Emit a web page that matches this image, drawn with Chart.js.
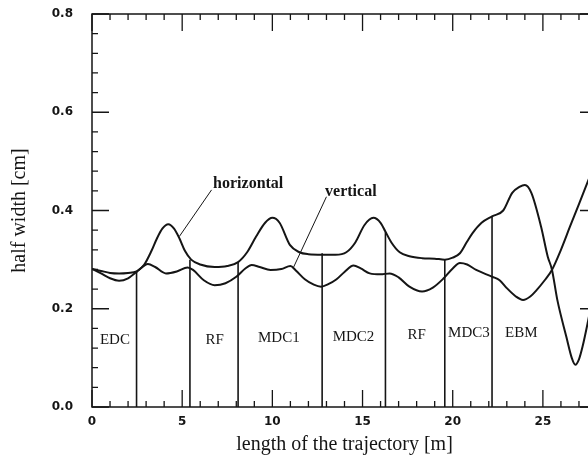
<!DOCTYPE html>
<html>
<head>
  <title>half width along the trajectory</title>
  <script src="https://cdn.jsdelivr.net/npm/chart.js"></script>
  <style>
    html, body { margin: 0; padding: 0; background: #fff; overflow: hidden; }
    #wrap { width: 600px; height: 457px; }
  </style>
</head>
<body>
<div id="wrap"><canvas id="widthChart" width="600" height="457"></canvas></div>

<script>
  // horizontal half width (the curve with the big bumps)
  const horizX = [0, 0.5, 1.0, 1.5, 2.0, 2.5, 2.9, 3.3, 3.6, 3.9, 4.23, 4.55, 4.85, 5.15, 5.5, 6.0, 6.8, 7.5, 8.1,
    8.6, 9.1, 9.6, 10.0, 10.4, 10.97, 11.5, 12.0, 12.76, 13.5, 14.1, 14.6, 15.1, 15.6, 16.0, 16.27, 16.6, 17.06,
    17.6, 18.3, 19.0, 19.56, 20.0, 20.4, 20.8, 21.1, 21.6, 22.18, 22.8, 23.3, 23.7, 24.0, 24.36, 24.9, 25.27,
    25.5, 25.8, 26.3, 26.6, 26.8, 27.0, 27.2, 27.5, 27.8];
  const horizY = [0.281, 0.272, 0.262, 0.257, 0.262, 0.276, 0.290, 0.318, 0.343, 0.363, 0.372, 0.363, 0.343, 0.318,
    0.300, 0.290, 0.285, 0.287, 0.295, 0.315, 0.347, 0.375, 0.385, 0.375, 0.330, 0.315, 0.311, 0.310, 0.310, 0.315,
    0.335, 0.370, 0.385, 0.375, 0.357, 0.335, 0.315, 0.307, 0.303, 0.302, 0.300, 0.304, 0.313, 0.337, 0.354, 0.375,
    0.388, 0.400, 0.436, 0.448, 0.452, 0.436, 0.367, 0.306, 0.280, 0.218, 0.143, 0.100, 0.086, 0.097, 0.123, 0.174,
    0.230];

  // vertical half width
  const vertX = [0, 0.5, 1.0, 1.5, 2.0, 2.47, 2.9, 3.1, 3.5, 4.1, 4.7, 5.3, 5.6, 6.2, 6.8, 7.4, 8.0, 8.5, 8.85, 9.3,
    9.9, 10.5, 11.0, 11.3, 11.8, 12.3, 12.7, 13.1, 13.56, 14.0, 14.5, 14.9, 15.4, 16.0, 16.5, 17.0, 17.6, 18.3,
    18.9, 19.5, 20.0, 20.4, 20.8, 21.3, 22.2, 22.6, 23.0, 23.5, 23.9, 24.3, 24.65, 25.1, 25.5, 26.0, 26.5, 27.0,
    27.5, 28.0];
  const vertY = [0.281, 0.277, 0.273, 0.272, 0.273, 0.276, 0.288, 0.291, 0.285, 0.272, 0.276, 0.284, 0.279, 0.258,
    0.248, 0.252, 0.265, 0.282, 0.289, 0.285, 0.279, 0.281, 0.287, 0.278, 0.260, 0.249, 0.245, 0.250, 0.260, 0.275,
    0.288, 0.282, 0.272, 0.270, 0.272, 0.264, 0.245, 0.235, 0.243, 0.262, 0.282, 0.293, 0.290, 0.279, 0.265, 0.258,
    0.242, 0.225, 0.218, 0.225, 0.238, 0.258, 0.279, 0.320, 0.367, 0.413, 0.460, 0.505];

  // element boundaries (vertical lines from the axis up to the curve)
  const boundX = [2.47, 5.43, 8.1, 12.76, 16.27, 19.56, 22.18];
  const boundTop = [0.276, 0.300, 0.295, 0.313, 0.357, 0.300, 0.388];

  // element names
  const regionNames = ["EDC", "RF", "MDC1", "MDC2", "RF", "MDC3", "EBM"];
  const regionX = [1.27, 6.8, 10.36, 14.5, 18.0, 20.9, 23.8];
  const regionY = [0.136, 0.136, 0.14, 0.143, 0.147, 0.15, 0.151];

  // curve names with their pointer lines
  const curveNames = ["horizontal", "vertical"];
  const curveNameX = [8.66, 14.35];
  const curveNameY = [0.4536, 0.4385];
  const pointerX = [[6.63, 4.84], [13.0, 11.15]];
  const pointerY = [[0.442, 0.347], [0.428, 0.2825]];

  const xTicks = [0, 5, 10, 15, 20, 25];
  const yTicks = [0.0, 0.2, 0.4, 0.6, 0.8];

  const ink = "#151515";
  const toPts = (xs, ys) => xs.map((x, i) => ({ x: x, y: ys[i] }));

  const datasets = [
    { data: toPts(horizX, horizY), borderColor: ink, borderWidth: 2, pointRadius: 0, cubicInterpolationMode: "monotone" },
    { data: toPts(vertX, vertY), borderColor: ink, borderWidth: 2, pointRadius: 0, cubicInterpolationMode: "monotone" }
  ];
  boundX.forEach((bx, i) => {
    datasets.push({ data: [{ x: bx, y: 0 }, { x: bx, y: boundTop[i] }], borderColor: ink, borderWidth: 1.6, pointRadius: 0 });
  });
  pointerX.forEach((px, i) => {
    datasets.push({ data: toPts(px, pointerY[i]), borderColor: ink, borderWidth: 1, pointRadius: 0 });
  });

  // inward ticks, frame and text labels
  const framePlugin = {
    id: "frame",
    afterDatasetsDraw(chart) {
      const { ctx, chartArea: a, scales: { x, y } } = chart;
      ctx.save();
      ctx.strokeStyle = ink;
      ctx.lineWidth = 1.5;
      ctx.strokeRect(a.left, a.top, a.right - a.left, a.bottom - a.top);

      ctx.lineWidth = 1.3;
      ctx.beginPath();
      for (let v = 0; v <= 28; v++) {
        const px = x.getPixelForValue(v);
        const len = v % 5 === 0 ? 17 : 6;
        ctx.moveTo(px, a.bottom); ctx.lineTo(px, a.bottom - len);
        ctx.moveTo(px, a.top); ctx.lineTo(px, a.top + len);
      }
      for (let k = 0; k <= 20; k++) {
        const py = y.getPixelForValue(k * 0.04);
        const len = k % 5 === 0 ? 17 : 6;
        ctx.moveTo(a.left, py); ctx.lineTo(a.left + len, py);
        ctx.moveTo(a.right, py); ctx.lineTo(a.right - len, py);
      }
      ctx.stroke();

      ctx.fillStyle = ink;
      ctx.textAlign = "center";
      ctx.textBaseline = "middle";
      ctx.font = "15px 'Liberation Serif'";
      regionNames.forEach((name, i) => {
        ctx.fillText(name, x.getPixelForValue(regionX[i]), y.getPixelForValue(regionY[i]));
      });
      ctx.font = "bold 16px 'Liberation Serif'";
      curveNames.forEach((name, i) => {
        ctx.fillText(name, x.getPixelForValue(curveNameX[i]), y.getPixelForValue(curveNameY[i]));
      });
      ctx.restore();
    }
  };

  new Chart(document.getElementById("widthChart"), {
    type: "line",
    data: { datasets: datasets },
    options: {
      responsive: false,
      animation: false,
      layout: { padding: { top: 14, right: 3, left: 0, bottom: 0 } },
      plugins: { legend: { display: false }, tooltip: { enabled: false } },
      scales: {
        x: {
          type: "linear",
          min: 0,
          max: 28,
          afterFit: s => { s.height = 50; s.paddingLeft = 0; s.paddingRight = 0; },
          afterBuildTicks: s => { s.ticks = xTicks.map(v => ({ value: v })); },
          grid: { display: false, drawTicks: false },
          border: { display: false },
          ticks: { padding: 8, color: ink, font: { family: "'DejaVu Sans'", size: 12, weight: "bold" }, maxRotation: 0 },
          title: { display: true, text: "length of the trajectory [m]", color: ink,
                   font: { family: "'Liberation Serif'", size: 20 }, padding: { top: 0, bottom: 0 } }
        },
        y: {
          min: 0,
          max: 0.8,
          afterFit: s => { s.width = 92; s.paddingTop = 0; s.paddingBottom = 0; },
          afterBuildTicks: s => { s.ticks = yTicks.map(v => ({ value: v })); },
          grid: { display: false, drawTicks: false },
          border: { display: false },
          ticks: { padding: 19, color: ink, font: { family: "'DejaVu Sans'", size: 12, weight: "bold" },
                   callback: v => v.toFixed(1) },
          title: { display: true, text: "half width [cm]", color: ink,
                   font: { family: "'Liberation Serif'", size: 20 }, padding: { top: 8, bottom: 0 } }
        }
      }
    },
    plugins: [framePlugin]
  });
</script>
</body>
</html>
